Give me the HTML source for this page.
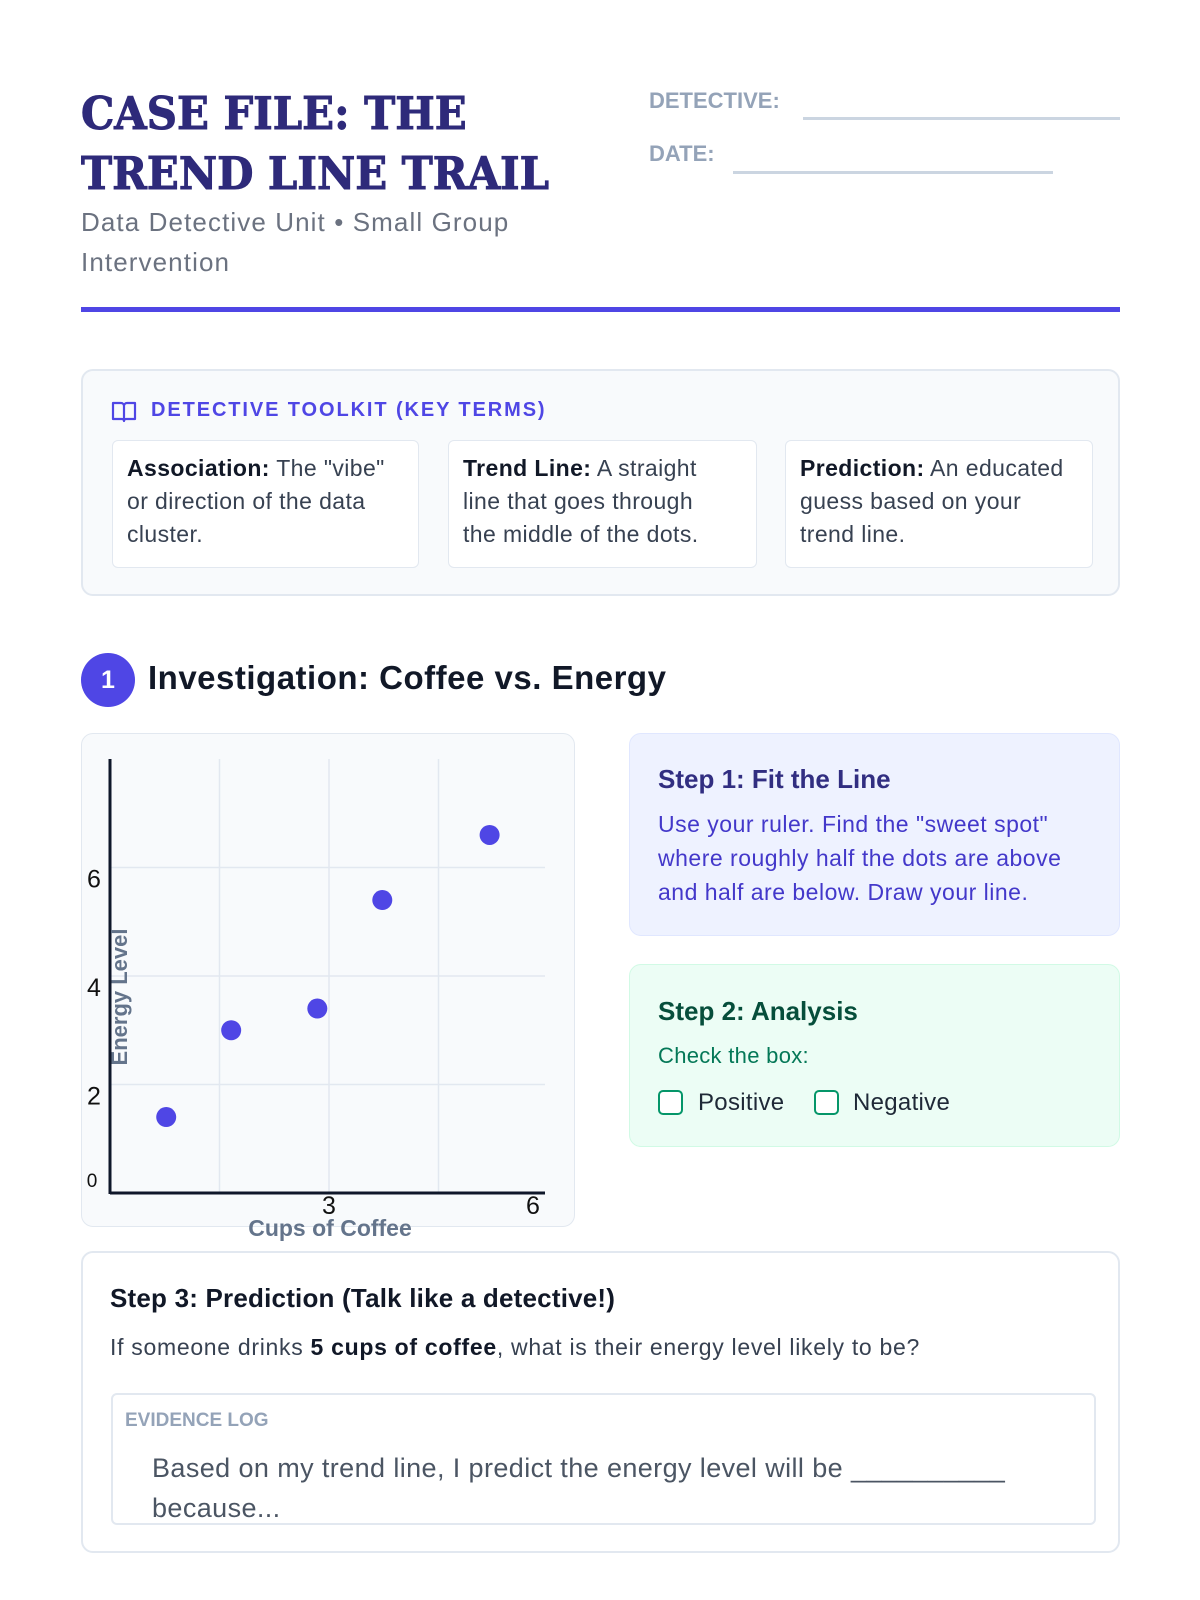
<!DOCTYPE html>
<html><head><meta charset="utf-8">
<style>
*{box-sizing:border-box;margin:0;padding:0}
body{width:1200px;height:1600px;background:#fff;font-family:"Liberation Sans",sans-serif;position:relative;overflow:hidden;color:#1e293b}
.a{position:absolute}
.title{left:81px;top:84px;font-family:"DejaVu Serif",serif;font-weight:bold;font-size:45px;line-height:60px;color:#2e2a7a;transform:scaleX(0.93);transform-origin:left top;white-space:nowrap;-webkit-text-stroke:1px #2e2a7a}
.sub{left:81px;top:202px;font-size:26px;line-height:40px;color:#6b7280;width:480px;letter-spacing:1.1px}
.lbl{font-size:22px;font-weight:bold;color:#94a3b8}
.ln{height:3px;background:#cbd5e1}
.card{border:2px solid #e2e8f0;border-radius:12px;background:#f8fafc}
.term{background:#fff;border:1px solid #e2e8f0;border-radius:6px;padding:11px 14px;font-size:23px;line-height:33px;color:#374151;letter-spacing:0.4px}
.term b{color:#111827}
.cb{width:25px;height:25px;border:2px solid #059669;border-radius:5px;background:#fff}
</style></head><body>
<div class="a title">CASE FILE: THE<br>TREND LINE TRAIL</div>
<div class="a sub">Data Detective Unit • Small Group Intervention</div>
<div class="a lbl" style="left:649px;top:88px">DETECTIVE:</div>
<div class="a ln" style="left:803px;top:117px;width:317px"></div>
<div class="a lbl" style="left:649px;top:141px">DATE:</div>
<div class="a ln" style="left:733px;top:171px;width:320px"></div>
<div class="a" style="left:81px;top:307px;width:1039px;height:5px;background:#4f46e5"></div>

<div class="a card" style="left:81px;top:369px;width:1039px;height:227px"></div>
<svg class="a" style="left:111px;top:400px" width="26" height="24" viewBox="0 0 26 24"><path d="M2 3h8a3 3 0 0 1 3 3v15a2 2 0 0 0-2-2H2zM24 3h-8a3 3 0 0 0-3 3v15a2 2 0 0 1 2-2h9z" fill="none" stroke="#4f46e5" stroke-width="2.2" stroke-linejoin="round"/></svg>
<div class="a" style="left:151px;top:399px;font-size:20px;font-weight:bold;letter-spacing:1.9px;color:#4f46e5">DETECTIVE TOOLKIT (KEY TERMS)</div>
<div class="a term" style="left:112px;top:440px;width:307px;height:128px"><b>Association:</b> The "vibe" or direction of the data cluster.</div>
<div class="a term" style="left:448px;top:440px;width:309px;height:128px;padding-right:24px"><b>Trend Line:</b> A straight line that goes through the middle of the dots.</div>
<div class="a term" style="left:785px;top:440px;width:308px;height:128px"><b>Prediction:</b> An educated guess based on your trend line.</div>

<div class="a" style="left:81px;top:653px;width:54px;height:54px;border-radius:50%;background:#4f46e5;color:#fff;font-size:25px;font-weight:bold;text-align:center;line-height:54px">1</div>
<div class="a" style="left:148px;top:659px;font-size:33px;font-weight:bold;color:#111827;letter-spacing:0.5px">Investigation: Coffee vs. Energy</div>

<div class="a card" style="left:81px;top:733px;width:494px;height:494px;border-width:1px"></div>
<svg class="a" style="left:0;top:0" width="1200" height="1600" id="chart"></svg>

<div class="a" style="left:629px;top:733px;width:491px;height:203px;background:#eef2ff;border:1px solid #e0e7ff;border-radius:12px"></div>
<div class="a" style="left:658px;top:764px;font-size:26px;font-weight:bold;color:#312e81">Step 1: Fit the Line</div>
<div class="a" style="left:658px;top:807px;width:450px;font-size:23px;line-height:34px;color:#4338ca;letter-spacing:0.5px">Use your ruler. Find the "sweet spot" where roughly half the dots are above and half are below. Draw your line.</div>

<div class="a" style="left:629px;top:964px;width:491px;height:183px;background:#ecfdf5;border:1px solid #d1fae5;border-radius:12px"></div>
<div class="a" style="left:658px;top:996px;font-size:26px;font-weight:bold;color:#064e3b">Step 2: Analysis</div>
<div class="a" style="left:658px;top:1043px;font-size:22px;color:#047857;letter-spacing:0.3px">Check the box:</div>
<div class="a cb" style="left:658px;top:1090px"></div>
<div class="a" style="left:698px;top:1089px;font-size:24px;color:#1f2937;letter-spacing:0.3px">Positive</div>
<div class="a cb" style="left:814px;top:1090px"></div>
<div class="a" style="left:853px;top:1089px;font-size:24px;color:#1f2937;letter-spacing:0.3px">Negative</div>

<div class="a card" style="left:81px;top:1251px;width:1039px;height:302px;background:#fff"></div>
<div class="a" style="left:110px;top:1283px;font-size:26px;font-weight:bold;color:#111827;letter-spacing:0.2px">Step 3: Prediction (Talk like a detective!)</div>
<div class="a" style="left:110px;top:1334px;font-size:23px;color:#374151;letter-spacing:0.7px">If someone drinks <b style="color:#111827">5 cups of coffee</b>, what is their energy level likely to be?</div>
<div class="a" style="left:111px;top:1393px;width:985px;height:132px;border:2px solid #e2e8f0;border-radius:6px;background:#fff"></div>
<div class="a" style="left:125px;top:1410px;font-size:19px;font-weight:bold;color:#94a3b8">EVIDENCE LOG</div>
<div class="a" style="left:152px;top:1448px;width:900px;font-size:27px;line-height:40px;color:#4b5563;letter-spacing:0.4px">Based on my trend line, I predict the energy level will be __________ because...</div>

<script>
const cups=[0.77,1.66,2.84,3.73,5.2];
const energy=[1.4,3.0,3.4,5.4,6.6];
const xTicks=[3,6];
const yTicks=[0,2,4,6];
const xGrid=[1.5,3,4.5];
const yGrid=[2,4,6];
const NS="http://www.w3.org/2000/svg";
const svg=document.getElementById('chart');
const X0=110,X1=548,Y0=1193,Y1=759;
const sx=v=>X0+v/6*(X1-X0);
const sy=v=>Y0-v/8*(Y0-Y1);
function mk(t,a){const e=document.createElementNS(NS,t);for(const k in a)e.setAttribute(k,a[k]);svg.appendChild(e);return e;}
xGrid.forEach(v=>{const l=mk('line',{x1:sx(v),x2:sx(v),y1:Y1,y2:Y0,stroke:'#e2e8f0','stroke-width':1.5});

});
yGrid.forEach(v=>{const l=mk('line',{x1:X0,x2:545,y1:sy(v),y2:sy(v),stroke:'#e2e8f0','stroke-width':1.5});

});
yTicks.forEach(v=>{const t=mk('text',{x:v===0?92:94,y:sy(v)+(v===0?-6:20),'text-anchor':'middle','font-size':v===0?19:25,fill:'#111','font-family':'Liberation Sans, sans-serif'});t.textContent=v;

});
xTicks.forEach(v=>{const t=mk('text',{x:v===6?sx(v)-15:sx(v),y:1214,'text-anchor':'middle','font-size':25,fill:'#111','font-family':'Liberation Sans, sans-serif'});t.textContent=v;

});
const ya=mk('line',{x1:X0,x2:X0,y1:Y1,y2:Y0+1,stroke:'#0f172a','stroke-width':3});


const xa=mk('line',{x1:X0,x2:X1-3,y1:Y0,y2:Y0,stroke:'#0f172a','stroke-width':3});


const yt=mk('text',{x:0,y:0,transform:'translate(127,997) rotate(-90)','text-anchor':'middle','font-size':22,'font-weight':'bold',fill:'#64748b','font-family':'Liberation Sans, sans-serif'});yt.textContent='Energy Level';


const xt=mk('text',{x:330,y:1236,'text-anchor':'middle','font-size':23,'font-weight':'bold',fill:'#64748b','font-family':'Liberation Sans, sans-serif'});xt.textContent='Cups of Coffee';


cups.forEach((c,i)=>{const p=mk('circle',{cx:sx(c),cy:sy(energy[i]),r:10,fill:'#4f46e5'});

});
</script>
</body></html>
